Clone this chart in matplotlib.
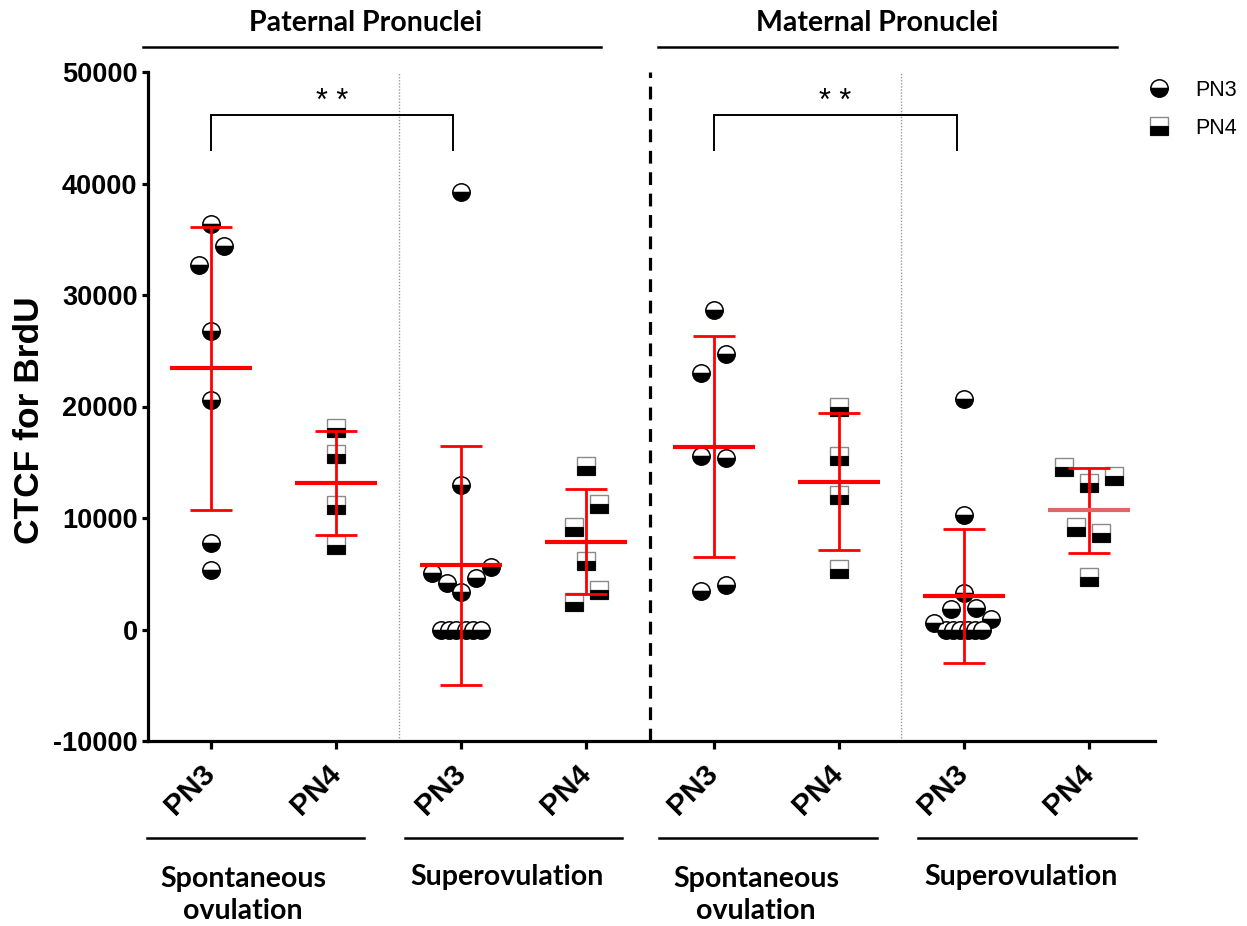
import numpy as np
import matplotlib
matplotlib.use("Agg")
import matplotlib.pyplot as plt
from matplotlib.lines import Line2D
from matplotlib.transforms import ScaledTranslation

# ---------------- data (CTCF for BrdU) ----------------
categories = ["PN3", "PN4", "PN3", "PN4", "PN3", "PN4", "PN3", "PN4"]
pat_spont_pn3 = [36400, 34400, 32700, 26800, 20600, 7750, 5350]
pat_spont_pn4 = [18070, 15740, 11170, 7580]
pat_super_pn3 = [0, 0, 0, 0, 0, 0, 39200, 12960, 5040, 4200, 3390, 4590, 5580]
pat_super_pn4 = [14670, 11260, 9220, 6140, 3540, 2440]
mat_spont_pn3 = [28660, 24720, 23030, 15590, 15410, 3480, 3990]
mat_spont_pn4 = [19980, 15590, 12060, 5400]
mat_super_pn3 = [0, 0, 0, 0, 0, 0, 20650, 10270, 3250, 1810, 1900, 560, 915]
mat_super_pn4 = [14550, 13170, 13770, 9220, 8680, 4740]

groups = [pat_spont_pn3, pat_spont_pn4, pat_super_pn3, pat_super_pn4,
          mat_spont_pn3, mat_spont_pn4, mat_super_pn3, mat_super_pn4]
kinds = ["PN3", "PN4", "PN3", "PN4", "PN3", "PN4", "PN3", "PN4"]

# ---------------- layout (scatter jitter, positions) ----------------
positions = [1, 2, 3, 4, 5.02, 6.02, 7.02, 8.02]
jitter = [
    [0, 0.1, -0.1, 0, 0, 0, 0],
    [0, 0, 0, 0],
    [-0.16, -0.096, -0.04, 0.04, 0.096, 0.16, 0, 0, -0.235, -0.115, 0, 0.12, 0.237],
    [0, 0.1, -0.1, 0, 0.1, -0.1],
    [0, 0.1, -0.1, -0.1, 0.1, -0.1, 0.1],
    [0, 0, 0, 0],
    [-0.144, -0.088, -0.032, 0.032, 0.088, 0.144, 0, 0, 0, -0.1, 0.1, -0.24, 0.22],
    [-0.2, 0, 0.2, -0.1, 0.1, 0],
]
mean_colors = ["#ff0000"] * 7 + ["#e06666"]

W, H = 1247, 926
def fx(p):
    return p / W
def fy(p):
    return 1 - p / H

plt.rcParams['font.family'] = ['Liberation Sans', 'DejaVu Sans']

fig = plt.figure(figsize=(W / 100, H / 100), dpi=100)
ax = fig.add_axes([fx(148), fy(741), (1155 - 148) / W, (741 - 72) / H])

MS = 12.5
marker_styles = {
    "PN3": dict(marker="o", markersize=MS, fillstyle="bottom", markerfacecolor="black",
                markerfacecoloralt="white", markeredgecolor="black", markeredgewidth=1.1),
    "PN4": dict(marker="s", markersize=MS, fillstyle="bottom", markerfacecolor="black",
                markerfacecoloralt="white", markeredgecolor="#8a8a8a", markeredgewidth=1.0),
}
# solid black lower half drawn over the square outline
half_square = dict(marker=[(-1, -1), (1, -1), (1, 0), (-1, 0), (-1, -1)], markersize=MS,
                   markerfacecolor="black", markeredgecolor="black", markeredgewidth=0.6)

red = "#ff0000"
for i, (vals, kind) in enumerate(zip(groups, kinds)):
    x0 = positions[i]
    xs = [x0 + j for j in jitter[i]]
    ax.plot(xs, vals, linestyle="none", zorder=3, clip_on=False, **marker_styles[kind])
    if kind == "PN4":
        ax.plot(xs, vals, linestyle="none", zorder=3, clip_on=False, **half_square)
    m = np.mean(vals)
    sd = np.std(vals, ddof=1)
    ax.vlines(x0, m - sd, m + sd, color=red, lw=2.0, zorder=4)
    ax.hlines([m - sd, m + sd], x0 - 0.168, x0 + 0.168, color=red, lw=2.0, zorder=4)
    ax.hlines(m, x0 - 0.33, x0 + 0.33, color=mean_colors[i], lw=3.0, zorder=5)

# separators
ax.axvline(2.504, color="#9a9a9a", lw=1.0, linestyle=(0, (1, 1.2)), zorder=1)
ax.axvline(6.52, color="#9a9a9a", lw=1.0, linestyle=(0, (1, 1.2)), zorder=1)
ax.axvline(4.51, color="black", lw=2.3, linestyle=(0, (4, 2.7)), zorder=2)

# significance brackets
for xa, xb in [(1, 2.936), (5.02, 6.964)]:
    ax.plot([xa, xa, xb, xb], [43000, 46100, 46100, 43000], color="black", lw=1.4,
            solid_joinstyle="miter", zorder=3)
    ax.text((xa + xb) / 2, 47300, "* *", ha="center", va="center", fontsize=22)

ax.set_xlim(0.496, 8.548)
ax.set_ylim(-10000, 50000)
ax.set_yticks(np.arange(-10000, 50001, 10000))
ax.set_yticklabels([str(v) for v in range(-10000, 50001, 10000)],
                   fontsize=19.5, fontweight="bold")
ax.set_xticks(positions)
ax.set_xticklabels(categories, fontsize=21.5, fontweight="bold", rotation=45,
                   ha="right", va="center", rotation_mode="anchor")
shift = ScaledTranslation(5 / 72, 0, fig.dpi_scale_trans)
for lab in ax.get_xticklabels():
    lab.set_transform(lab.get_transform() + shift)
for s in ["top", "right"]:
    ax.spines[s].set_visible(False)
for s in ["left", "bottom"]:
    ax.spines[s].set_linewidth(2.3)
ax.tick_params(axis="y", length=4.5, width=2.3, pad=3)
ax.tick_params(axis="x", length=6, width=2.3, pad=14)
ax.set_ylabel("CTCF for BrdU", fontsize=25.5, fontweight="bold", ha="center", va="center")
ax.yaxis.set_label_coords((30 - 148) / 1007, (741 - 420) / 669)

# legend
handles = [Line2D([], [], linestyle="none", **marker_styles["PN3"]),
           (Line2D([], [], linestyle="none", **marker_styles["PN4"]),
            Line2D([], [], linestyle="none", **half_square))]
ax.legend(handles, ["PN3", "PN4"], loc="upper left", frameon=False,
          bbox_to_anchor=(fx(1148), fy(80)), bbox_transform=fig.transFigure,
          fontsize=15.5, handlelength=1.0, handletextpad=1.2, labelspacing=0.78,
          borderaxespad=0, borderpad=0)

# header annotations
hfont = dict(family=["Lato", "DejaVu Sans"], fontweight="bold", fontsize=20.5)
fig.text(fx(366), fy(23), "Paternal Pronuclei", ha="center", va="center", **hfont)
fig.text(fx(877), fy(23), "Maternal Pronuclei", ha="center", va="center", **hfont)
for a, b in [(143, 601), (658, 1117)]:
    fig.add_artist(Line2D([fx(a), fx(b)], [fy(47), fy(47)], transform=fig.transFigure,
                          color="black", lw=1.8))

# bottom group annotations
for a, b in [(147, 364), (405, 622), (659, 877), (918, 1136)]:
    fig.add_artist(Line2D([fx(a), fx(b)], [fy(838), fy(838)], transform=fig.transFigure,
                          color="black", lw=1.8))
fig.text(fx(243), fy(895), "Spontaneous\novulation", ha="center", va="center",
         linespacing=1.3, multialignment="center", **hfont)
fig.text(fx(507), fy(877), "Superovulation", ha="center", va="center", **hfont)
fig.text(fx(756), fy(895), "Spontaneous\novulation", ha="center", va="center",
         linespacing=1.3, multialignment="center", **hfont)
fig.text(fx(1021), fy(877), "Superovulation", ha="center", va="center", **hfont)

fig.savefig("out.png", dpi=100)
